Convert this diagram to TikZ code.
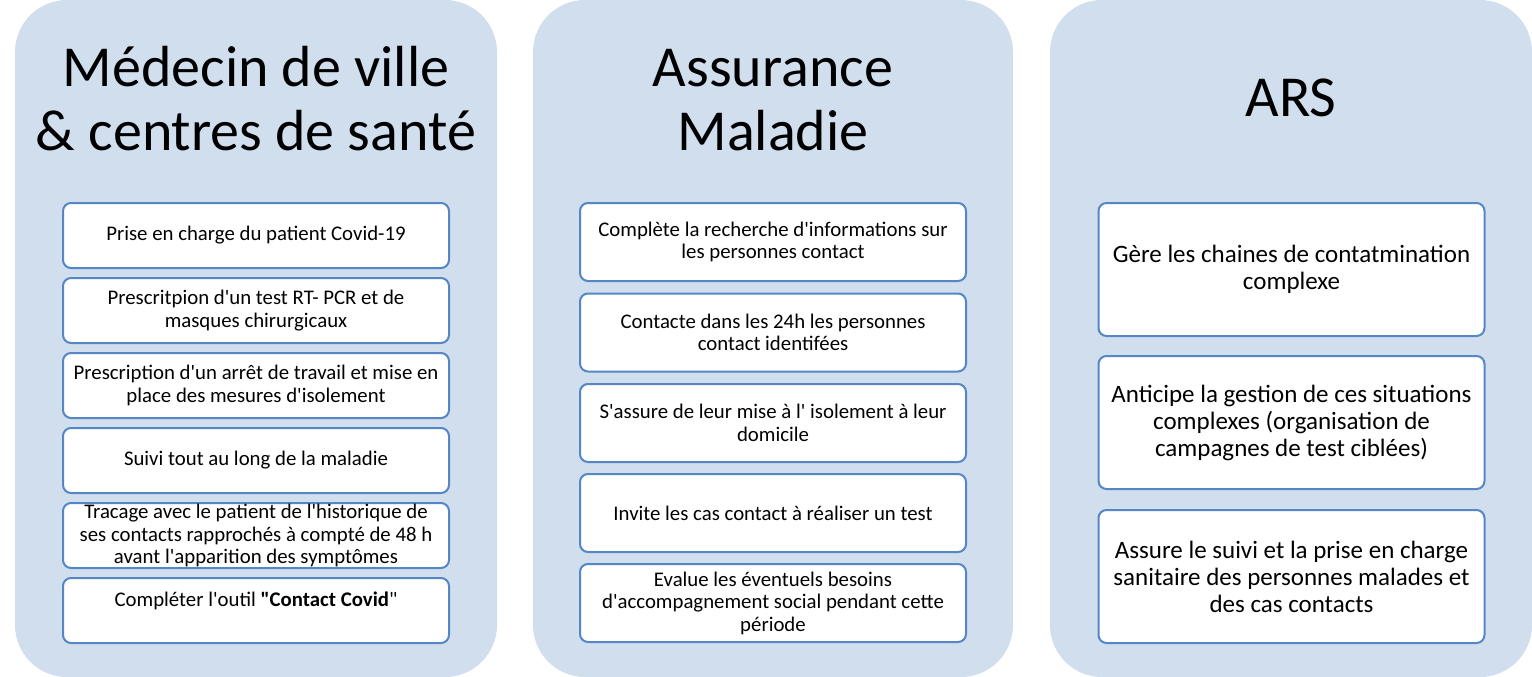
\documentclass[tikz,border=0pt]{standalone}
\usepackage{fontspec}
\setmainfont{Carlito}[Ligatures=TeXOff]
\definecolor{panelblue}{RGB}{208,222,238}
\definecolor{boxline}{RGB}{84,135,196}

\begin{document}
\begin{tikzpicture}[x=1pt, y=-1pt,
	panel/.style={fill=panelblue, rounded corners=52pt},
	title/.style={anchor=base, font=\fontsize{58}{63}\selectfont},
	task/.style={draw=boxline, line width=2pt, fill=white, rounded corners=8pt, inner sep=0pt, align=center, minimum width=386pt, font=\fontsize{20.8}{22.5}\selectfont},
	smalltask/.style={task, minimum height=65pt},
	midtask/.style={task, minimum height=78pt},
	bigtask/.style={task, minimum height=133pt, font=\fontsize{25}{27}\selectfont}]
		
		\useasboundingbox (0,0) rectangle (1532,677);
		
		\fill [panel] (15,0) rectangle (497,677);
		\fill [panel] (533,0) rectangle (1013,677);
		\fill [panel] (1050,0) rectangle (1532,677);
		
		\node [title] (med1) at (256,87) {Médecin de ville};
		\node [title] (med2) at (256,150) {\& centres de santé};
		\node [title] (am1) at (773,86) {Assurance};
		\node [title] (am2) at (773,150) {Maladie};
		\node [title] (ars) at (1291,117) {ARS};
		
		\node [smalltask] (m1) at (256,235.5) {Prise en charge du patient Covid-19};
		\node [smalltask] (m2) at (256,310.5) {Prescritpion d'un test RT- PCR et de\\masques chirurgicaux};
		\node [smalltask] (m3) at (256,385.5) {Prescription d'un arrêt de travail et mise en\\place des mesures d'isolement};
		\node [smalltask] (m4) at (256,460.5) {Suivi tout au long de la maladie};
		\node [smalltask] (m5) at (256,535.5) {Tracage avec le patient de l'historique de\\ses contacts rapprochés à compté de 48 h\\avant l'apparition des symptômes};
		\node [smalltask] (m6) at (256,610.5) {Compléter l'outil \textbf{"Contact Covid}"\\\mbox{}};
		
		\node [midtask] (a1) at (773,242) {Complète la recherche d'informations sur\\les personnes contact};
		\node [midtask] (a2) at (773,332.5) {Contacte dans les 24h les personnes\\contact identifées};
		\node [midtask] (a3) at (773,423) {S'assure de leur mise à l' isolement à leur\\domicile};
		\node [midtask] (a4) at (773,513) {Invite les cas contact à réaliser un test};
		\node [midtask] (a5) at (773,603) {Evalue les éventuels besoins\\d'accompagnement social pendant cette\\période};
		
		\node [bigtask] (r1) at (1291.5,269.5) {Gère les chaines de contatmination\\complexe};
		\node [bigtask] (r2) at (1291.5,422.5) {Anticipe la gestion de ces situations\\complexes (organisation de\\campagnes de test ciblées)};
		\node [bigtask] (r3) at (1291.5,576.5) {Assure le suivi et la prise en charge\\sanitaire des personnes malades et\\des cas contacts};
		
	\end{tikzpicture}
\end{document}
